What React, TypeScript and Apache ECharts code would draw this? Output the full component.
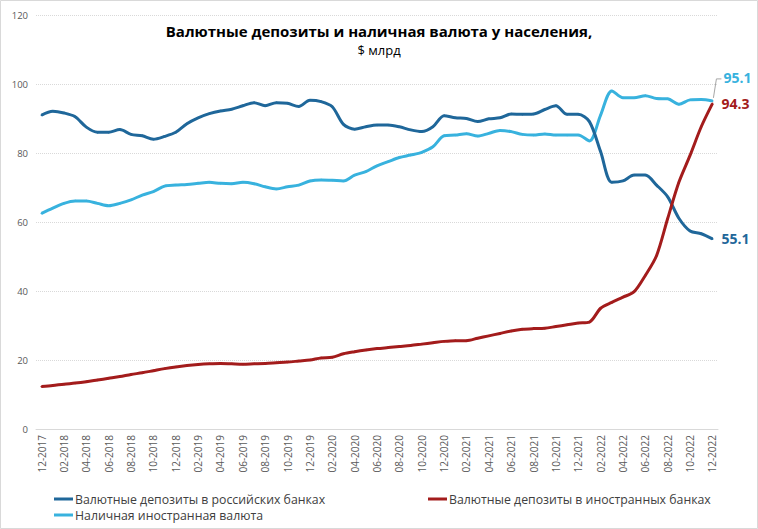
import React, { useEffect, useRef } from 'react';
import * as echarts from 'echarts';

const months = [
  '12-2017',
  '01-2018', '02-2018', '03-2018', '04-2018', '05-2018', '06-2018', '07-2018', '08-2018', '09-2018', '10-2018', '11-2018', '12-2018',
  '01-2019', '02-2019', '03-2019', '04-2019', '05-2019', '06-2019', '07-2019', '08-2019', '09-2019', '10-2019', '11-2019', '12-2019',
  '01-2020', '02-2020', '03-2020', '04-2020', '05-2020', '06-2020', '07-2020', '08-2020', '09-2020', '10-2020', '11-2020', '12-2020',
  '01-2021', '02-2021', '03-2021', '04-2021', '05-2021', '06-2021', '07-2021', '08-2021', '09-2021', '10-2021', '11-2021', '12-2021',
  '01-2022', '02-2022', '03-2022', '04-2022', '05-2022', '06-2022', '07-2022', '08-2022', '09-2022', '10-2022', '11-2022', '12-2022',
];

const rusBanks = [
  91.0,
  92.1, 91.6, 90.5, 87.5, 86.0, 86.0, 86.8, 85.4, 85.0, 84.0, 84.8, 86.0,
  88.5, 90.2, 91.4, 92.2, 92.7, 93.7, 94.6, 93.7, 94.6, 94.4, 93.5, 95.3,
  94.9, 93.4, 88.3, 86.9, 87.6, 88.1, 88.1, 87.6, 86.7, 86.2, 87.6, 90.8,
  90.2, 90.0, 89.1, 89.9, 90.2, 91.3, 91.2, 91.3, 92.6, 93.7, 91.2, 91.2,
  89.1, 80.4, 71.5, 71.9, 73.6, 73.6, 70.7, 67.3, 61.1, 57.4, 56.6, 55.1,
];

const foreignBanks = [
  12.3,
  12.6, 13.0, 13.3, 13.7, 14.2, 14.7, 15.2, 15.8, 16.3, 16.9, 17.5, 18.0,
  18.4, 18.7, 18.9, 19.0, 18.9, 18.8, 18.9, 19.0, 19.2, 19.4, 19.7, 20.0,
  20.6, 20.8, 21.8, 22.4, 22.9, 23.3, 23.6, 23.9, 24.2, 24.6, 25.0, 25.4,
  25.6, 25.6, 26.3, 27.0, 27.7, 28.4, 28.9, 29.1, 29.2, 29.7, 30.2, 30.7,
  31.0, 35.0, 36.7, 38.2, 39.8, 44.5, 50.2, 61.0, 71.5, 79.3, 87.6, 94.3,
];

const cashFx = [
  62.5,
  64.0, 65.4, 66.1, 66.1, 65.4, 64.7, 65.4, 66.4, 67.8, 68.8, 70.4, 70.7,
  70.9, 71.2, 71.5, 71.2, 71.1, 71.5, 71.1, 70.2, 69.6, 70.2, 70.7, 71.9,
  72.2, 72.1, 71.9, 73.6, 74.6, 76.3, 77.5, 78.7, 79.4, 80.2, 81.8, 85.0,
  85.2, 85.6, 84.9, 85.7, 86.5, 86.2, 85.4, 85.2, 85.5, 85.2, 85.2, 85.2,
  83.5, 91.0, 98.0, 96.0, 96.0, 96.6, 95.8, 95.7, 94.1, 95.4, 95.5, 95.1,
];

const seriesNames = [
  'Валютные депозиты в российских банках',
  'Валютные депозиты в иностранных банках',
  'Наличная иностранная валюта',
];

const titleText = 'Валютные депозиты и наличная валюта у населения,';
const subtitleText = '$ млрд';

const FONT = '"Open Sans", "Noto Sans", sans-serif';
const C_DARK = '#1f679a';
const C_RED = '#a31c1c';
const C_LIGHT = '#38b2de';

function withEndLabel(values: number[], color: string) {
  return values.map((v, i) =>
    i === values.length - 1
      ? {
          value: v,
          label: {
            show: true,
            position: 'right',
            distance: 8,
            formatter: (p: any) => Number(p.value).toFixed(1),
            color,
            fontFamily: FONT,
            fontWeight: 'bold',
            fontSize: 14,
          },
        }
      : v
  );
}

export default function App() {
  const ref = useRef<HTMLDivElement>(null);
  useEffect(() => {
    document.body.style.margin = '0';
    const chart = echarts.init(ref.current!, null, { renderer: 'svg' });
    const lineBase = {
      type: 'line',
      smooth: 0.3,
      symbol: 'circle',
      symbolSize: 2,
      showSymbol: true,
      emphasis: { disabled: true },
    };
    const legendText = { fontFamily: FONT, fontSize: 12.3, color: '#404040', padding: [0, 0, 0, -3] };
    chart.setOption({
      animation: false,
      textStyle: { fontFamily: FONT },
      title: {
        text: titleText,
        subtext: subtitleText,
        left: 'center',
        top: 18,
        itemGap: 5,
        textStyle: { fontFamily: FONT, fontSize: 15, fontWeight: 'bold', color: '#000' },
        subtextStyle: { fontFamily: FONT, fontSize: 13, color: '#000' },
      },
      grid: { left: 36, right: 40, top: 15, bottom: 100, containLabel: false },
      xAxis: {
        type: 'category',
        data: months,
        boundaryGap: true,
        axisLine: { lineStyle: { color: '#d9d9d9' } },
        axisTick: { interval: 1, lineStyle: { color: '#d9d9d9' }, length: 5 },
        axisLabel: { interval: 1, rotate: 90, fontSize: 10, color: '#595959', fontFamily: FONT, margin: 6 },
      },
      yAxis: {
        type: 'value',
        min: 0,
        max: 120,
        interval: 20,
        axisLine: { show: false },
        axisTick: { show: false },
        axisLabel: { fontSize: 9.5, color: '#595959', fontFamily: FONT, margin: 8 },
        splitLine: { lineStyle: { color: '#d9d9d9', type: 'dotted', width: 1 } },
      },
      legend: [
        { data: [seriesNames[0]], left: 49, top: 488, icon: 'rect', itemWidth: 19, itemHeight: 3, textStyle: legendText },
        { data: [seriesNames[1]], left: 423, top: 488, icon: 'rect', itemWidth: 19, itemHeight: 3, textStyle: legendText },
        { data: [seriesNames[2]], left: 49, top: 504, icon: 'rect', itemWidth: 19, itemHeight: 3, textStyle: legendText },
      ],
      graphic: [
        {
          id: 'frame',
          type: 'rect',
          shape: { x: 0.5, y: 0.5, width: 757, height: 528 },
          style: { fill: 'none', stroke: '#d9d9d9', lineWidth: 1 },
          silent: true,
        },
      ],
      series: [
        {
          ...lineBase,
          name: seriesNames[2],
          data: withEndLabel(cashFx, C_LIGHT),
          color: C_LIGHT,
          lineStyle: { color: C_LIGHT, width: 3 },
          itemStyle: { color: C_LIGHT },
          labelLayout: { dy: -23, dx: 2 },
          z: 2,
        },
        {
          ...lineBase,
          name: seriesNames[0],
          data: withEndLabel(rusBanks, C_DARK),
          color: C_DARK,
          lineStyle: { color: C_DARK, width: 3 },
          itemStyle: { color: C_DARK },
          z: 3,
        },
        {
          ...lineBase,
          name: seriesNames[1],
          data: withEndLabel(foreignBanks, C_RED),
          color: C_RED,
          lineStyle: { color: C_RED, width: 3 },
          itemStyle: { color: C_RED },
          z: 4,
        },
      ],
    });
    // leader line for the cash label, anchored via the chart's own scales
    const last = cashFx.length - 1;
    const p = chart.convertToPixel({ seriesIndex: 0 }, [last, cashFx[last]]) as number[];
    if (p && isFinite(p[0]) && isFinite(p[1])) {
      chart.setOption({
        graphic: [
          {
            id: 'leader',
            type: 'polyline',
            shape: { points: [[p[0] + 1, p[1] - 3], [p[0] + 4, p[1] - 22], [p[0] + 9, p[1] - 22]] },
            style: { fill: 'none', stroke: '#a6a6a6', lineWidth: 1 },
            silent: true,
            z: 10,
          },
        ],
      });
    }
    return () => chart.dispose();
  }, []);
  return <div ref={ref} style={{ width: 758, height: 529 }} />;
}
